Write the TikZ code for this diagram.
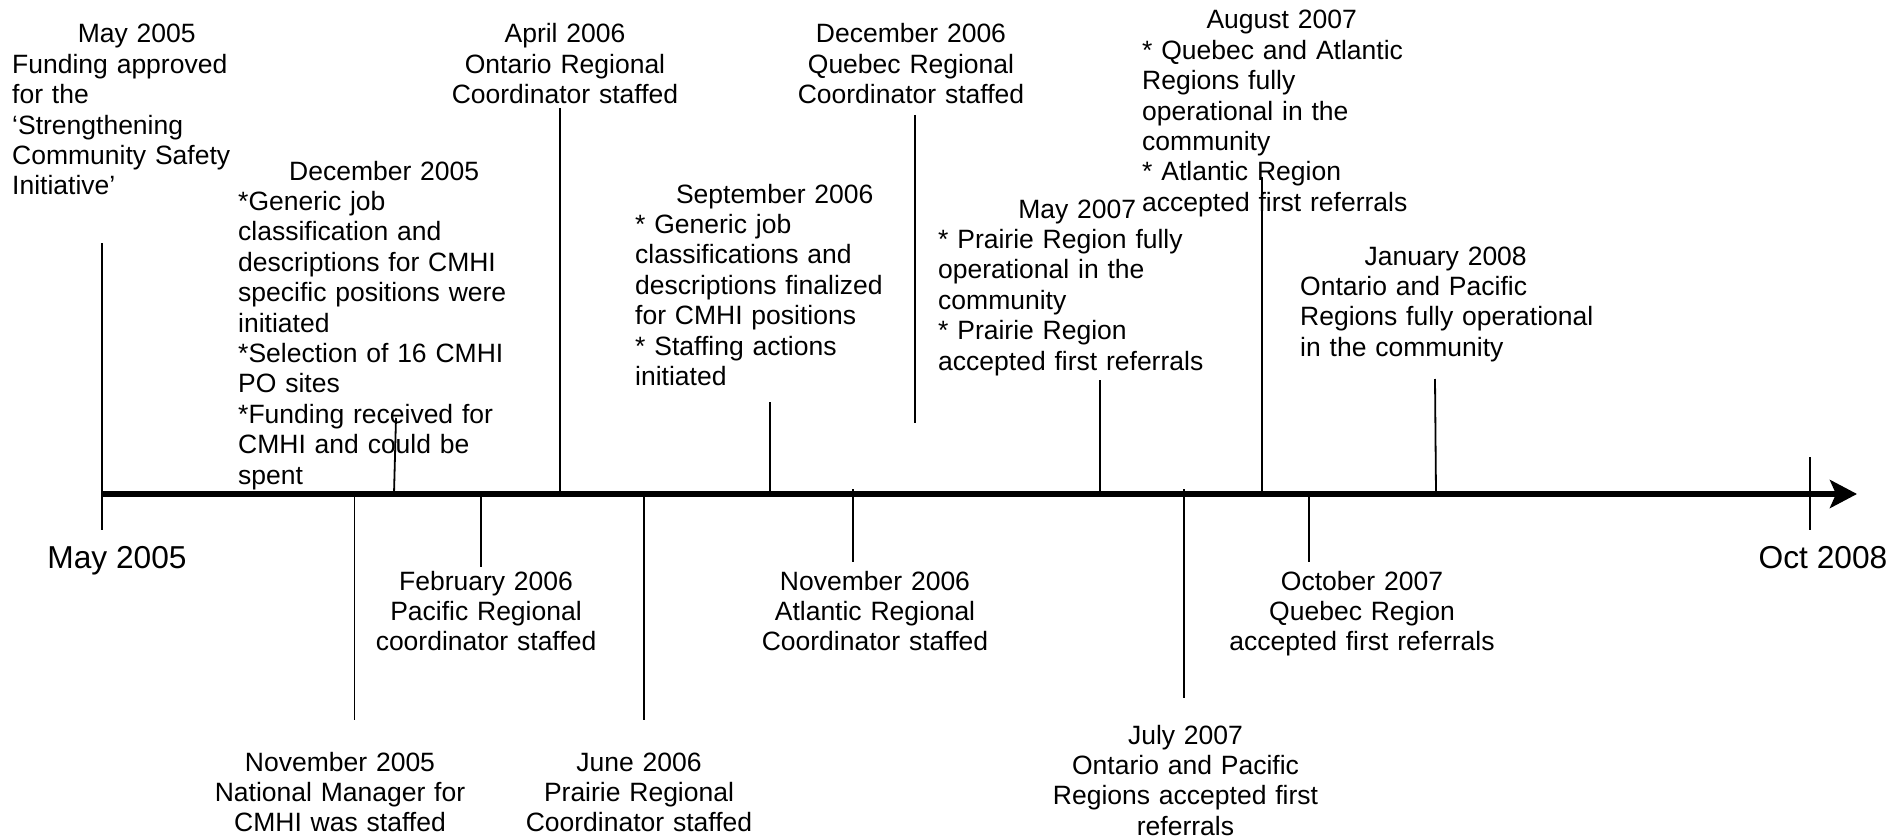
\documentclass[tikz,border=0pt]{standalone}
\usepackage{fontspec}
\setmainfont{Liberation Sans}
\usetikzlibrary{arrows.meta}
\begin{document}
\begin{tikzpicture}[x=1pt,y=-1pt,
  evt/.style={font=\fontsize{26.5}{30.4}\selectfont, inner sep=0pt, text width=420pt},
  evtc/.style={evt, align=center, anchor=base},
  evtl/.style={evt, align=left, anchor=base west},
  axislbl/.style={font=\fontsize{31.7}{36}\selectfont, inner sep=0pt, anchor=base},
  stem/.style={line width=1.8pt},
  timeline/.style={line width=5.5pt, -{Stealth[length=27pt,width=28pt,inset=6pt]}}]
\useasboundingbox (0,0) rectangle (1895,840);

% ---- main time axis ----
\coordinate (t0) at (102,494);
\coordinate (tend) at (1857,494);
\draw[timeline] (t0) -- (tend);

% end ticks of the axis
\coordinate (s0top) at (102,243);
\coordinate (s0bot) at (102,530);
\draw[stem] (s0top) -- (s0bot);
\coordinate (s1top) at (1810,457);
\coordinate (s1bot) at (1810,530);
\draw[stem] (s1top) -- (s1bot);

\node[axislbl] (lblstart) at (117,568) {May 2005};
\node[axislbl] (lblend) at (1823,568) {Oct 2008};

% ---- events above the axis ----
% (bullets are written {*} so that \\ does not read them as \\*)
\node[evtl] (may05) at (12,43) {\makebox[249pt]{May 2005}\\
  Funding approved\\ for the\\ ‘Strengthening\\ Community Safety\\ Initiative’};

\node[evtl] (dec05) at (238,180) {\makebox[292pt]{December 2005}\\
  {*}Generic job\\ classification and\\ descriptions for CMHI\\ specific positions were\\
  initiated\\ {*}Selection of 16 CMHI\\ PO sites\\ {*}Funding received for\\
  CMHI and could be\\ spent};
\coordinate (dec05a) at (396,418);
\coordinate (dec05b) at (394,494);
\draw[stem] (dec05a) -- (dec05b);

\node[evtc] (apr06) at (565,43) {April 2006\\ Ontario Regional\\ Coordinator staffed};
\coordinate (apr06a) at (560,108);
\coordinate (apr06b) at (560,494);
\draw[stem] (apr06a) -- (apr06b);

\node[evtl] (sep06) at (635,203) {\makebox[279pt]{September 2006}\\
  {*} Generic job\\ classifications and\\ descriptions finalized\\ for CMHI positions\\
  {*} Staffing actions\\ initiated};
\coordinate (sep06a) at (770,402);
\coordinate (sep06b) at (770,494);
\draw[stem] (sep06a) -- (sep06b);

\node[evtc] (dec06) at (911,43) {December 2006\\ Quebec Regional\\ Coordinator staffed};
\coordinate (dec06a) at (915,115);
\coordinate (dec06b) at (915,423);
\draw[stem] (dec06a) -- (dec06b);

\node[evtl] (may07) at (938,218) {\makebox[278pt]{May 2007}\\
  {*} Prairie Region fully\\ operational in the\\ community\\ {*} Prairie Region\\
  accepted first referrals};
\coordinate (may07a) at (1100,380);
\coordinate (may07b) at (1100,494);
\draw[stem] (may07a) -- (may07b);

\node[evtl] (aug07) at (1142,29) {\makebox[279pt]{August 2007}\\
  {*} Quebec and Atlantic\\ Regions fully\\ operational in the\\ community\\
  {*} Atlantic Region\\ accepted first referrals};
\coordinate (aug07a) at (1262,177);
\coordinate (aug07b) at (1262,494);
\draw[stem] (aug07a) -- (aug07b);

\node[evtl] (jan08) at (1300,265) {\makebox[291pt]{January 2008}\\
  Ontario and Pacific\\ Regions fully operational\\ in the community};
\coordinate (jan08a) at (1435,379);
\coordinate (jan08b) at (1436,494);
\draw[stem] (jan08a) -- (jan08b);

% ---- events below the axis ----
\node[evtc] (nov05) at (340,771) {November 2005\\ National Manager for\\ CMHI was staffed};
\coordinate (nov05a) at (354.5,494);
\coordinate (nov05b) at (354.5,720);
\draw[stem] (nov05a) -- (nov05b);

\node[evtc] (feb06) at (486,590) {February 2006\\ Pacific Regional\\ coordinator staffed};
\coordinate (feb06a) at (481,494);
\coordinate (feb06b) at (481,567);
\draw[stem] (feb06a) -- (feb06b);

\node[evtc] (jun06) at (639,771) {June 2006\\ Prairie Regional\\ Coordinator staffed};
\coordinate (jun06a) at (644,494);
\coordinate (jun06b) at (644,720);
\draw[stem] (jun06a) -- (jun06b);

\node[evtc] (nov06) at (875,590) {November 2006\\ Atlantic Regional\\ Coordinator staffed};
\coordinate (nov06a) at (853,489);
\coordinate (nov06b) at (853,562);
\draw[stem] (nov06a) -- (nov06b);

\node[evtc] (jul07) at (1185.5,744) {July 2007\\ Ontario and Pacific\\ Regions accepted first\\ referrals};
\coordinate (jul07a) at (1184,489);
\coordinate (jul07b) at (1184,698);
\draw[stem] (jul07a) -- (jul07b);

\node[evtc] (oct07) at (1362,590) {October 2007\\ Quebec Region\\ accepted first referrals};
\coordinate (oct07a) at (1309,494);
\coordinate (oct07b) at (1309,562);
\draw[stem] (oct07a) -- (oct07b);
\end{tikzpicture}
\end{document}
